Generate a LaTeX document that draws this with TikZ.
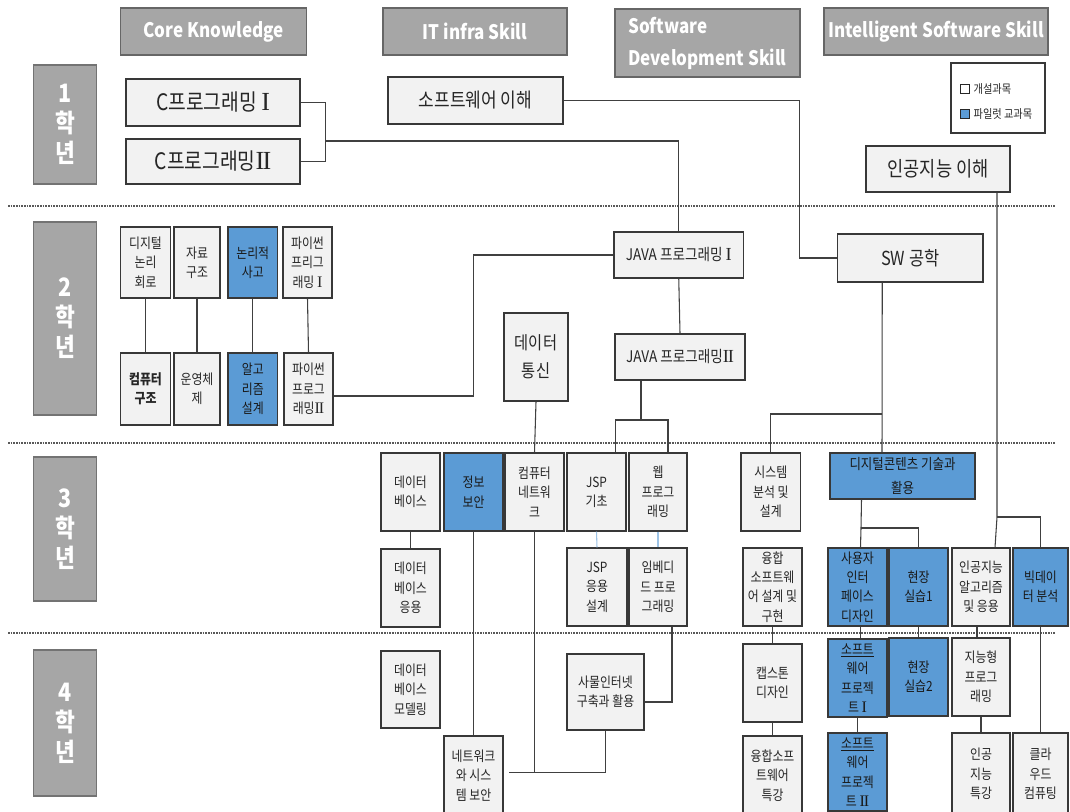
\documentclass[tikz,border=0pt]{standalone}
\usepackage{fontspec}
\setmainfont{Noto Sans CJK KR}[FakeStretch=0.85]
\newfontfamily\rnum{Liberation Serif}[Scale=1.15]
\newcommand\rI{{\rnum I}}
\newcommand\rII{{\rnum I\kern-0.07em I}}
\usetikzlibrary{calc}
\definecolor{boxgray}{HTML}{F2F2F2}
\definecolor{pilot}{HTML}{5B9BD5}
\definecolor{headgray}{HTML}{A6A6A6}
\definecolor{lnk}{HTML}{404040}
\definecolor{lblue}{HTML}{9DC3E6}
\newcommand\fsz[2]{\fontsize{#1}{#2}\selectfont}
\newcommand\mkbox[7][cbox]{\node[#1, minimum width={(#5-#3)*0.75pt}, minimum height={(#6-#4)*0.75pt}] (#2) at ({(#3+#5)/2},{(#4+#6)/2}) {#7};}
\tikzset{
  cbox/.style={draw=black!78, line width=0.9pt, fill=boxgray, text=black!85, align=center, inner sep=1pt, font=\fsz{10.5}{14.5}},
  pbox/.style={cbox, fill=pilot, text=black!90},
  hbox/.style={draw=black!60, line width=0.8pt, fill=headgray, text=white, align=center, inner sep=1pt, font=\bfseries\fsz{15}{24}},
  ybox/.style={hbox, draw=black!55, font=\bfseries\fsz{19}{22.5}},
  legbox/.style={draw=black!78, line width=0.8pt, fill=white},
  sq/.style={draw=black!85, line width=0.6pt, minimum size=7pt, inner sep=0pt},
  legtxt/.style={font=\fsz{9}{11}, text=black!85, inner sep=2.5pt},
  conn/.style={draw=lnk, line width=0.8pt},
  lconn/.style={draw=lblue, line width=0.8pt},
  sepline/.style={draw=black!65, line width=0.8pt, dash pattern=on 1.2pt off 0.8pt},
}
\begin{document}
\begin{tikzpicture}[x=0.75pt, y=-0.75pt]
\fill[white] (0,0) rectangle (1070,812);
\useasboundingbox (0,0) rectangle (1070,812);

% separators
\draw[sepline] (8,206) -- (1055,206);
\draw[sepline] (8,443) -- (1055,443);
\draw[sepline] (8,633) -- (1055,633);

% headers
\mkbox[hbox]{hck}{120.5}{8}{306.5}{55}{Core Knowledge}
\mkbox[hbox]{hit}{383}{8}{567}{55}{IT infra Skill}
\mkbox[hbox, align=left]{hsd}{615}{9}{800}{77}{Software\\Development Skill}
\mkbox[hbox]{his}{824}{8}{1048}{55}{Intelligent Software Skill}

% year labels
\mkbox[ybox]{y1}{33.5}{65}{96.5}{184}{1\\학\\년}
\mkbox[ybox]{y2}{33.5}{222}{96.5}{415}{2\\학\\년}
\mkbox[ybox]{y3}{33.5}{457}{96.5}{601}{3\\학\\년}
\mkbox[ybox]{y4}{33.5}{650}{96.5}{796}{4\\학\\년}

% legend
\mkbox[legbox]{leg}{951}{63}{1045}{133}{}
\node[sq, fill=white] (sqw) at (965,89) {};
\node[legtxt, anchor=west] (lgw) at (sqw.east) {개설과목};
\node[sq, fill=pilot] (sqb) at (965,114) {};
\node[legtxt, anchor=west] (lgb) at (sqb.east) {파일럿 교과목};

% year 1
\mkbox[cbox, font=\fsz{17}{19}]{c1}{126}{79}{300}{126}{C프로그래밍 \rI}
\mkbox[cbox, font=\fsz{17}{19}]{c2}{126}{139}{300}{184}{C프로그래밍\rII}
\mkbox[cbox, font=\fsz{15}{18}]{swu}{388}{77}{563}{124}{소프트웨어 이해}
\mkbox[cbox, font=\fsz{15.5}{18}]{aiu}{866}{146}{1010}{192}{인공지능 이해}

% year 2
\mkbox{dl}{120.5}{227}{170.5}{298}{디지털\\논리\\회로}
\mkbox{ds}{174}{227}{220}{298}{자료\\구조}
\mkbox[pbox]{lt}{228}{227}{277.5}{298}{논리적\\사고}
\mkbox{py1}{283}{227}{332}{298}{파이썬\\프리그\\래밍 \rI}
\mkbox[cbox, font=\bfseries\fsz{10.5}{14.5}]{ca}{120.5}{353}{170.5}{425}{컴퓨터\\구조}
\mkbox{os}{174}{353}{220}{425}{운영체\\제}
\mkbox[pbox]{alg}{228}{353}{277.5}{425}{알고\\리즘\\설계}
\mkbox{py2}{284}{353}{333}{425}{파이썬\\프로그\\래밍\rII}
\mkbox[cbox, font=\fsz{13.5}{21}]{dc}{504}{313}{568}{401}{데이터\\통신}
\mkbox[cbox, font=\fsz{12}{14}]{j1}{614}{232}{743.5}{278}{JAVA 프로그래밍 \rI}
\mkbox[cbox, font=\fsz{12}{14}]{j2}{615}{334}{745}{380}{JAVA 프로그래밍\rII}
\mkbox[cbox, font=\fsz{14.5}{17}]{swe}{837.5}{234}{983}{282}{SW 공학}

% year 3
\mkbox{db}{381}{453}{440}{531}{데이터\\베이스}
\mkbox[pbox]{sec}{444}{453}{503}{531}{정보\\보안}
\mkbox{cn}{505}{453}{564}{531}{컴퓨터\\네트워\\크}
\mkbox{jsp}{567}{453}{626}{531}{JSP\\기초}
\mkbox{web}{629}{453}{687}{531}{웹\\프로그\\래밍}
\mkbox{sad}{741}{453}{800.7}{531}{시스템\\분석 및\\설계}
\mkbox[pbox, font=\fsz{11}{17.5}]{dct}{830}{453}{975}{499}{디지털콘텐츠 기술과\\활용}
\mkbox{dba}{381}{549}{440}{627}{데이터\\베이스\\응용}
\mkbox{jspa}{567}{548}{627}{626}{JSP\\응용\\설계}
\mkbox{emb}{629}{548}{687}{626}{임베디\\드 프로\\그래밍}
\mkbox{cvg}{743}{548}{802}{626}{융합\\소프트웨\\어 설계 및\\구현}
\mkbox[pbox]{uid}{828}{548}{887}{626}{사용자\\인터\\페이스\\디자인}
\mkbox[pbox]{fp1}{889}{548}{948}{626}{현장\\실습1}
\mkbox{aia}{952}{548}{1010}{626}{인공지능\\알고리즘\\및 응용}
\mkbox[pbox]{bda}{1013}{548}{1068}{626}{빅데이\\터 분석}

% year 4
\mkbox{dbm}{381}{651}{440}{728}{데이터\\베이스\\모델링}
\mkbox{nss}{444}{736}{503}{815}{네트워크\\와 시스\\템 보안}
\mkbox{iot}{567}{654}{644}{730}{사물인터넷\\구축과 활용}
\mkbox{cap}{743}{644}{802}{722}{캡스톤\\디자인}
\mkbox{cvs}{743}{736}{802}{815}{융합소프\\트웨어\\특강}
\mkbox[pbox]{sp1}{828}{639}{887}{717}{\underline{소프트}\\웨어\\프로젝\\트 \rI}
\mkbox[pbox]{sp2}{828}{733}{887}{811}{\underline{소프트}\\웨어\\프로젝\\트 \rII}
\mkbox[pbox]{fp2}{889}{638}{948}{716}{현장\\실습2}
\mkbox{ip}{952}{638}{1010}{716}{지능형\\프로그\\래밍}
\mkbox{ais}{952}{733}{1010}{815}{인공\\지능\\특강}
\mkbox{cc}{1013}{733}{1068}{815}{클라\\우드\\컴퓨팅}

% connectors year 1
\draw[conn] (c1.east) -- ++(25,0) |- (c2.east);
\coordinate (cj) at (325,141);
\draw[conn] (cj) -| (j1.north);
\draw[conn] (swu.east) -| ($(swe.west)+(-37,0)$) -- (swe.west);
\coordinate (aij) at (997,517);
\draw[conn] ($(aiu.south)+(59,0)$) -- (aij) -- ($(aia.north)+(14,0)$);
\draw[conn] (aij) -| (bda.north);

% year 2
\draw[conn] (dl.south) -- (ca.north);
\draw[conn] (ds.south) -- (os.north);
\draw[conn] (lt.south) -- (alg.north);
\draw[conn] (py1.south) -- (py2.north);
\draw[conn] ($(py2.east)+(0,7)$) -| ($(j1.west)+(-139.5,0)$) -- (j1.west);
\draw[conn] (j1.south) -- (j2.north);
\coordinate (jb) at (641,420);
\draw[conn] ($(j2.south)+(-39,0)$) -- (jb);
\draw[conn] ($(jsp.north)+(19,0)$) |- (jb) -| ($(web.north)+(10,0)$);
\coordinate (sj) at (882,414);
\draw[conn] ($(swe.south)+(-28,0)$) -- ($(dct.north)+(-20.5,0)$);
\draw[conn] (sj) -| (sad.north);
\draw[conn] (dc.south) -- (cn.north);

% year 3
\draw[conn] (db.south) -- (dba.north);
\draw[lconn] (jsp.south) -- (jspa.north);
\draw[lconn] (web.south) -- (emb.north);
\draw[conn] (sec.south) -- (nss.north);
\draw[conn] ($(emb.south)+(14,0)$) |- ($(iot.east)+(0,10)$);
\draw[conn] (iot.south) |- ($(nss.east)+(5,-3)$);
\draw[conn] (cn.south) -- ($(cn.south |- nss.east)+(0,-3)$);
\coordinate (dj) at (861,528);
\draw[conn] ($(dct.south)+(-41,0)$) -- (dj) -- ($(uid.north)+(3,0)$);
\draw[conn] (dj) -| (fp1.north);

% year 4
\draw[conn] (cvg.south) -- (cap.north);
\draw[conn] (cap.south) -- (cvs.north);
\draw[conn] ($(uid.south)+(3,0)$) -- ($(sp1.north)+(3,0)$);
\draw[conn] (sp1.south) -- (sp2.north);
\draw[conn] (fp1.south) -- (fp2.north);
\draw[conn] ($(aia.south)+(-4,0)$) -- ($(ip.north)+(-4,0)$);
\draw[conn] (ip.south) -- (ais.north);
\draw[conn] (bda.south) -- (cc.north);
\end{tikzpicture}
\end{document}
